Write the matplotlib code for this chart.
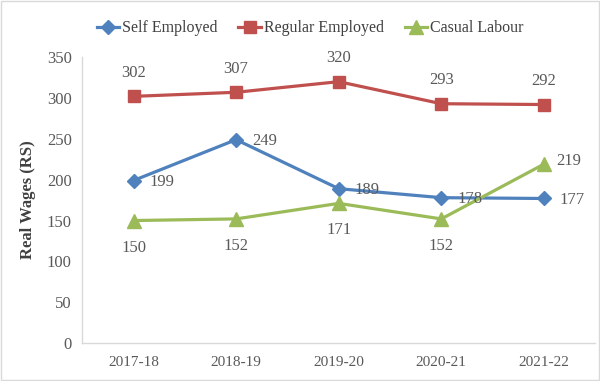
import matplotlib
matplotlib.use("Agg")
from matplotlib import pyplot as plt
from matplotlib.patches import Rectangle

years = ['2017-18', '2018-19', '2019-20', '2020-21', '2021-22']
self_employed = [199, 249, 189, 178, 177]
regular_employed = [302, 307, 320, 293, 292]
casual_labour = [150, 152, 171, 152, 219]

plt.rcParams['font.family'] = ['Liberation Serif', 'DejaVu Serif']

fig = plt.figure(figsize=(6, 3.81), dpi=100)
ax = fig.add_axes([0.137, 0.0995, 0.855, 0.7505])

x = list(range(len(years)))
ax.plot(x, self_employed, color='#4F81BD', lw=2.3, marker='D', ms=7, label='Self Employed')
ax.plot(x, regular_employed, color='#C0504D', lw=2.3, marker='s', ms=9, label='Regular Employed')
ax.plot(x, casual_labour, color='#9BBB59', lw=2.3, marker='^', ms=9.5, label='Casual Labour')

lab_col = '#595959'
# data labels: self employed to the right, regular above, casual below (last one right)
for i, v in enumerate(self_employed):
    ax.annotate(str(v), (i, v), xytext=(11.5, -1), textcoords='offset points',
                ha='left', va='center', fontsize=12, color=lab_col)
for i, v in enumerate(regular_employed):
    ax.annotate(str(v), (i, v), xytext=(0, 17), textcoords='offset points',
                ha='center', va='center', fontsize=12, color=lab_col)
for i, v in enumerate(casual_labour):
    if i == len(casual_labour) - 1:
        ax.annotate(str(v), (i, v), xytext=(9, 2), textcoords='offset points',
                    ha='left', va='center', fontsize=12, color=lab_col)
    else:
        ax.annotate(str(v), (i, v), xytext=(0, -19.5), textcoords='offset points',
                    ha='center', va='center', fontsize=12, color=lab_col)

ax.set_xlim(-0.5, len(years) - 0.5)
ax.set_ylim(0, 350)
ax.set_yticks(range(0, 351, 50))
ax.set_xticks(x)
ax.set_xticklabels(years)
ax.tick_params(axis='x', length=0, labelsize=11, colors=lab_col, pad=9)
ax.tick_params(axis='y', length=0, labelsize=12, colors=lab_col, pad=7.5)

for s in ['top', 'right']:
    ax.spines[s].set_visible(False)
for s in ['left', 'bottom']:
    ax.spines[s].set_color('#D9D9D9')
    ax.spines[s].set_linewidth(1)

ax.set_ylabel('Real Wages (RS)', fontsize=12, fontweight='bold', color='#404040', labelpad=8)

fig.legend(loc='center', bbox_to_anchor=(0.517, 0.926), ncol=3, frameon=False,
           fontsize=11.5, handlelength=1.4, handletextpad=0.2, columnspacing=1.3,
           labelcolor='#404040')

fig.patches.append(Rectangle((0.002, 0.003), 0.996, 0.994, transform=fig.transFigure,
                             fill=False, edgecolor='#D9D9D9', lw=1))

fig.savefig('out.png', dpi=100)
